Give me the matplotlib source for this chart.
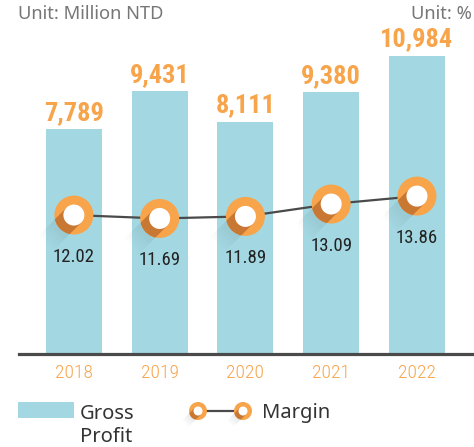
import numpy as np
import matplotlib
matplotlib.use('Agg')
import matplotlib.pyplot as plt
from matplotlib.patches import Circle, Polygon, Rectangle
from matplotlib.transforms import ScaledTranslation
from matplotlib.lines import Line2D

# data
years = ['2018', '2019', '2020', '2021', '2022']
gross_profit = [7789, 9431, 8111, 9380, 10984]
gross_labels = ['7,789', '9,431', '8,111', '9,380', '10,984']
margin = [12.02, 11.69, 11.89, 13.09, 13.86]

bar_color = '#a3d8e2'
orange = '#f7a44b'
dark_orange = '#c97833'
grey_line = '#4a4a4a'
narrow = ['Roboto Condensed', 'Roboto', 'DejaVu Sans']
sans = ['Noto Sans', 'DejaVu Sans']

base = -2030  # axis bottom (the chart uses a truncated value axis)

fig = plt.figure(figsize=(4.74, 4.47), dpi=100)
ax = fig.add_axes([19 / 474, 1 - 354 / 447, 455 / 474, 354 / 447])
ax2 = ax.twinx()

x = np.arange(len(years))
ax.bar(x, np.array(gross_profit) - base, bottom=base, width=0.653, color=bar_color, zorder=1)
ax.set_xlim(-0.64, 4.665)
ax.set_ylim(base, 13415)
ax2.set_ylim(-1.47, 32.9)

for a in (ax, ax2):
    for s in ['top', 'right', 'left']:
        a.spines[s].set_visible(False)
    a.set_yticks([])
ax2.spines['bottom'].set_visible(False)
ax.spines['bottom'].set_color(grey_line)
ax.spines['bottom'].set_linewidth(2.3)
ax.spines['bottom'].set_zorder(3)
ax.set_xticks(x)
ax.set_xticklabels(years, color=orange, fontsize=14, family=narrow, fontweight='light')
ax.tick_params(axis='x', length=0, pad=7)

# value labels on bars
for i, v in enumerate(gross_profit):
    ax.annotate(gross_labels[i], (i, v), xytext=(0, 3), textcoords='offset points',
                ha='center', va='bottom', color=orange, fontsize=19,
                fontweight='bold', family=narrow)

# margin line
ax2.plot(x, margin, color=grey_line, lw=1.6, zorder=2)


def draw_marker(trans, r_out, r_in, target):
    # long shadow going down-left
    d = np.array([-1.0, -1.0]) / np.sqrt(2)
    p = np.array([1.0, -1.0]) / np.sqrt(2)
    L = r_out * 2.0
    n = 8
    for k in range(n):
        a0 = r_out * 0.6 + (L - r_out * 0.6) * k / n
        a1 = r_out * 0.6 + (L - r_out * 0.6) * (k + 1) / n
        poly = [r_in * p + a0 * d, r_in * p + a1 * d, -r_in * p + a1 * d, -r_in * p + a0 * d]
        target.add_artist(Polygon(poly, closed=True, transform=trans, facecolor='#5a6a70',
                                  alpha=0.16 * (1 - k / n), lw=0, zorder=3))
    outer = Circle((0, 0), r_out, transform=trans, facecolor=orange, lw=0, zorder=4)
    target.add_artist(outer)
    sh = Polygon([r_in * p, r_in * p + L * d, -r_in * p + L * d, -r_in * p], closed=True,
                 transform=trans, facecolor=dark_orange, lw=0, zorder=5)
    target.add_artist(sh)
    sh.set_clip_path(outer)
    target.add_artist(Circle((0, 0), r_in, transform=trans, facecolor='white', lw=0, zorder=6))


for i, m in enumerate(margin):
    trans = fig.dpi_scale_trans + ScaledTranslation(i, m, ax2.transData)
    draw_marker(trans, 0.195, 0.105, ax2)
    ax2.annotate(f'{m:.2f}', (i, m), xytext=(0, -23.5), textcoords='offset points',
                 ha='center', va='top', color='#222222', fontsize=13.5, family=narrow, zorder=7)

# unit texts
fig.text(18 / 474, 1 - 5 / 447, 'Unit: Million NTD', ha='left', va='top',
         color='#777777', fontsize=13.2, family=sans)
fig.text(472 / 474, 1 - 5 / 447, 'Unit: %', ha='right', va='top',
         color='#777777', fontsize=13.2, family=sans)

# legend
def px(xp, yp):
    return (xp / 100, (447 - yp) / 100)

fig.add_artist(Rectangle(px(18, 418), 0.56, 0.16, transform=fig.dpi_scale_trans,
                         facecolor=bar_color, lw=0))
fig.text(80 / 474, 1 - 442 / 447, 'Gross\nProfit', ha='left', va='baseline',
         color='#333333', fontsize=14.5, family=sans, linespacing=1.2)
fig.add_artist(Line2D([198 / 100, 243 / 100], [(447 - 411) / 100] * 2,
                      transform=fig.dpi_scale_trans, color=grey_line, lw=1.6))
for cx in (198, 243):
    t = fig.dpi_scale_trans + ScaledTranslation(cx / 100, (447 - 411) / 100, fig.dpi_scale_trans)
    draw_marker(t, 0.09, 0.045, fig)
fig.text(262 / 474, 1 - 418 / 447, 'Margin', ha='left', va='baseline',
         color='#333333', fontsize=14.5, family=sans)

fig.savefig('out.png', dpi=100)
